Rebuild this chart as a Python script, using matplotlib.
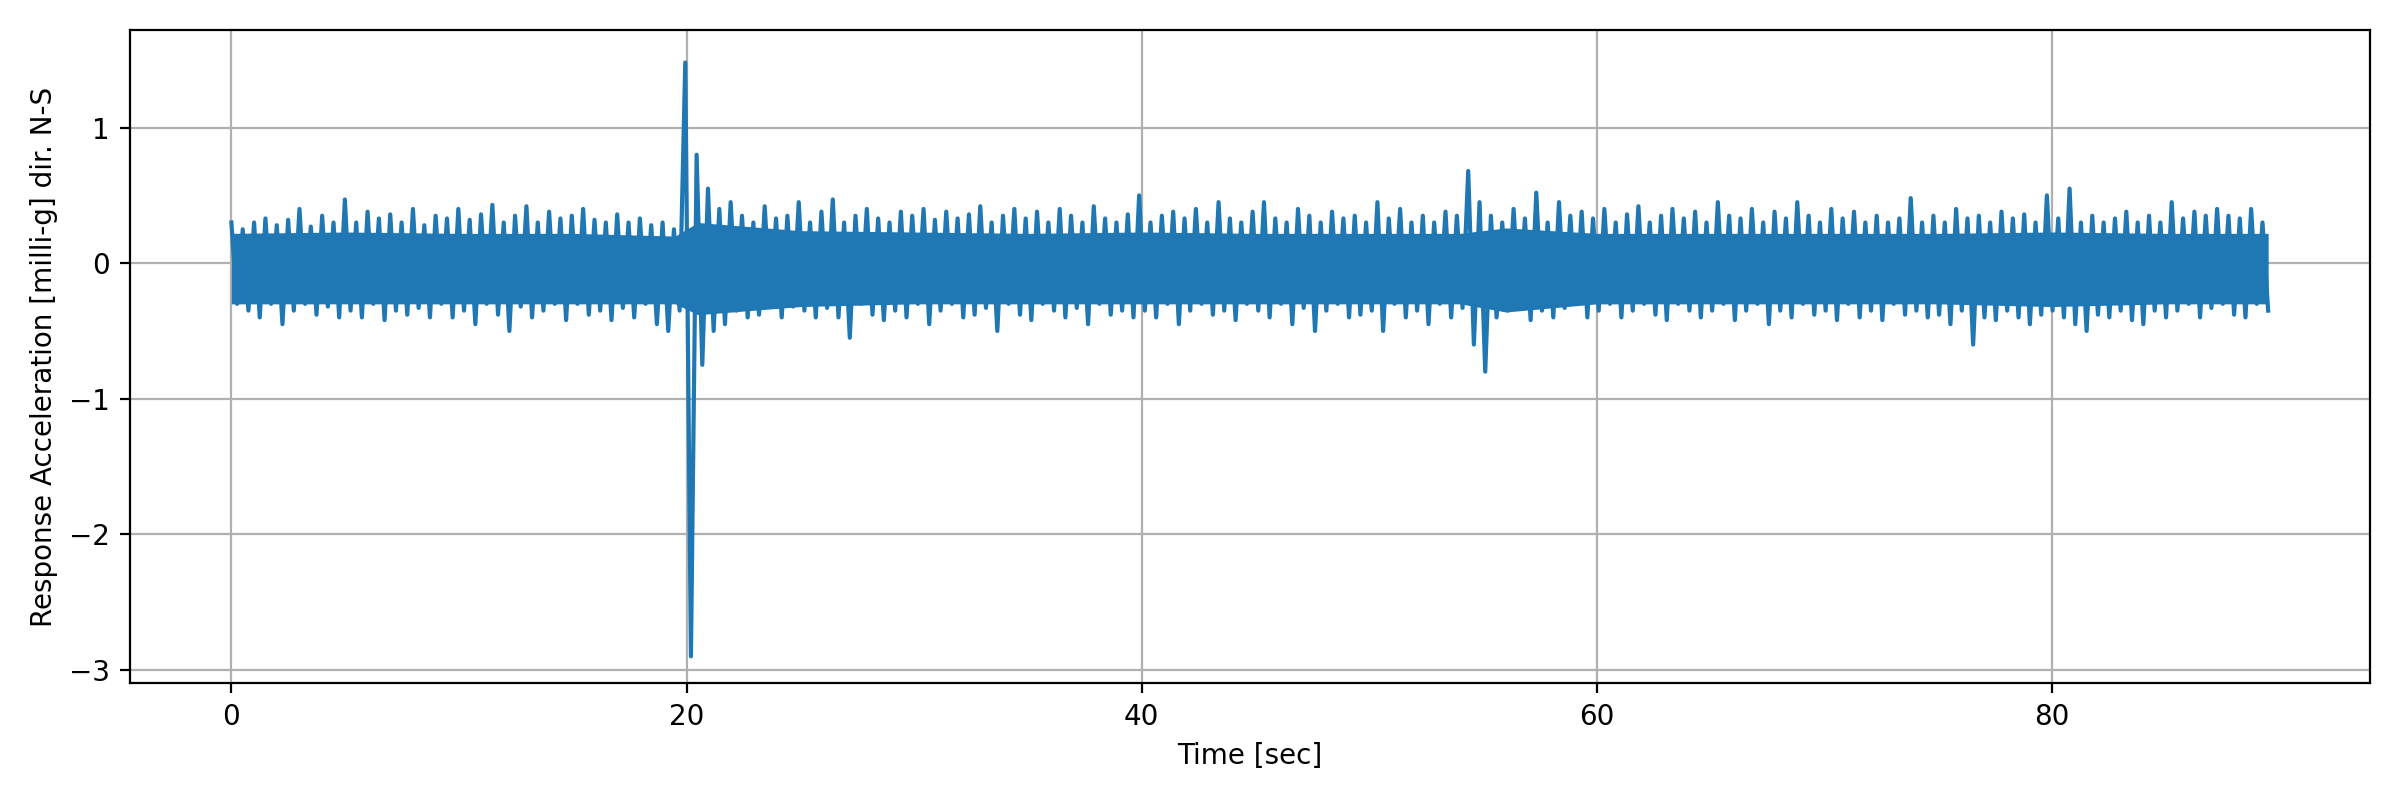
import matplotlib
matplotlib.use("Agg")
import matplotlib.pyplot as plt
import numpy as np

# acceleration peaks read from the record, alternating up/down, milli-g
acc = [
    0.3, -0.3, 0.25, -0.35, 0.3, -0.4, 0.33, -0.3, 0.28, -0.45, 0.32, -0.35, 0.4, -0.3, 0.27, -0.38, 0.35, -0.32, 0.3, -0.4,
    0.47, -0.35, 0.3, -0.4, 0.38, -0.3, 0.33, -0.42, 0.36, -0.35, 0.3, -0.38, 0.4, -0.33, 0.28, -0.4, 0.35, -0.3, 0.33, -0.4,
    0.4, -0.35, 0.32, -0.45, 0.36, -0.3, 0.43, -0.38, 0.3, -0.5, 0.35, -0.32, 0.42, -0.4, 0.3, -0.35, 0.38, -0.3, 0.33, -0.42,
    0.35, -0.3, 0.4, -0.38, 0.32, -0.35, 0.3, -0.42, 0.36, -0.33, 0.3, -0.4, 0.33, -0.3, 0.28, -0.45, 0.3, -0.5, 0.25, -0.35,
    1.48, -2.9, 0.8, -0.75, 0.55, -0.5, 0.4, -0.45, 0.45, -0.35, 0.35, -0.4, 0.3, -0.38, 0.42, -0.3, 0.33, -0.4, 0.35, -0.32,
    0.45, -0.35, 0.3, -0.4, 0.38, -0.33, 0.47, -0.4, 0.3, -0.55, 0.35, -0.3, 0.4, -0.38, 0.33, -0.42, 0.3, -0.35, 0.38, -0.4,
    0.35, -0.3, 0.4, -0.45, 0.32, -0.35, 0.38, -0.3, 0.33, -0.4, 0.36, -0.38, 0.42, -0.33, 0.3, -0.5, 0.35, -0.3, 0.4, -0.38,
    0.33, -0.42, 0.38, -0.3, 0.3, -0.35, 0.4, -0.4, 0.35, -0.33, 0.3, -0.45, 0.42, -0.3, 0.33, -0.38, 0.3, -0.35, 0.36, -0.4,
    0.5, -0.35, 0.3, -0.4, 0.35, -0.3, 0.38, -0.45, 0.33, -0.35, 0.4, -0.3, 0.3, -0.38, 0.45, -0.35, 0.33, -0.42, 0.3, -0.3,
    0.38, -0.35, 0.45, -0.4, 0.33, -0.3, 0.3, -0.45, 0.4, -0.33, 0.35, -0.5, 0.3, -0.35, 0.38, -0.3, 0.33, -0.4, 0.35, -0.38,
    0.3, -0.35, 0.45, -0.5, 0.33, -0.3, 0.4, -0.4, 0.3, -0.35, 0.35, -0.45, 0.3, -0.3, 0.38, -0.4, 0.35, -0.33, 0.68, -0.6,
    0.45, -0.8, 0.35, -0.4, 0.3, -0.35, 0.4, -0.3, 0.33, -0.42, 0.52, -0.35, 0.3, -0.4, 0.45, -0.33, 0.35, -0.3, 0.38, -0.4,
    0.33, -0.35, 0.4, -0.3, 0.3, -0.4, 0.36, -0.35, 0.42, -0.3, 0.3, -0.38, 0.35, -0.42, 0.4, -0.3, 0.33, -0.35, 0.38, -0.4,
    0.3, -0.35, 0.45, -0.3, 0.35, -0.42, 0.33, -0.35, 0.4, -0.3, 0.3, -0.45, 0.38, -0.35, 0.33, -0.4, 0.45, -0.3, 0.35, -0.38,
    0.3, -0.35, 0.4, -0.42, 0.33, -0.3, 0.38, -0.4, 0.3, -0.35, 0.35, -0.42, 0.3, -0.3, 0.33, -0.38, 0.48, -0.35, 0.3, -0.4,
    0.35, -0.38, 0.3, -0.45, 0.4, -0.35, 0.33, -0.6, 0.35, -0.4, 0.3, -0.42, 0.38, -0.35, 0.33, -0.4, 0.36, -0.45, 0.3, -0.38,
    0.5, -0.35, 0.33, -0.4, 0.55, -0.45, 0.3, -0.5, 0.35, -0.38, 0.3, -0.4, 0.33, -0.35, 0.38, -0.42, 0.3, -0.45, 0.35, -0.35,
    0.3, -0.4, 0.45, -0.35, 0.33, -0.3, 0.38, -0.4, 0.35, -0.33, 0.4, -0.3, 0.35, -0.38, 0.33, -0.4, 0.4, -0.3, 0.3, -0.35,
]
duration = 89.5  # sec
time = np.linspace(0, duration, len(acc))

# dense core of the signal, read every 5 sec
band_t = [0, 5, 10, 15, 19.5, 20.5, 25, 30, 35, 40, 45, 50, 54, 56, 60, 65, 70, 75, 80, 85, 89.5]
band_hi = [0.22, 0.23, 0.22, 0.22, 0.2, 0.3, 0.24, 0.23, 0.22, 0.23, 0.22, 0.22, 0.22, 0.26, 0.22, 0.22, 0.22, 0.22, 0.23, 0.22, 0.22]
band_lo = [-0.3, -0.3, -0.3, -0.3, -0.3, -0.38, -0.32, -0.3, -0.3, -0.3, -0.3, -0.3, -0.3, -0.36, -0.3, -0.3, -0.3, -0.3, -0.32, -0.3, -0.3]

fig, ax = plt.subplots(figsize=(12, 4))
ax.fill_between(band_t, band_lo, band_hi, color='#1f77b4', linewidth=0, zorder=2)
ax.plot(time, acc, color='#1f77b4', linewidth=1.5, zorder=2)
ax.set_xlabel('Time [sec]')
ax.set_ylabel('Response Acceleration [milli-g] dir. N-S')
ax.set_ylim(-3.1, 1.72)
ax.grid(True)
fig.tight_layout()
fig.savefig('out.png', dpi=200)
